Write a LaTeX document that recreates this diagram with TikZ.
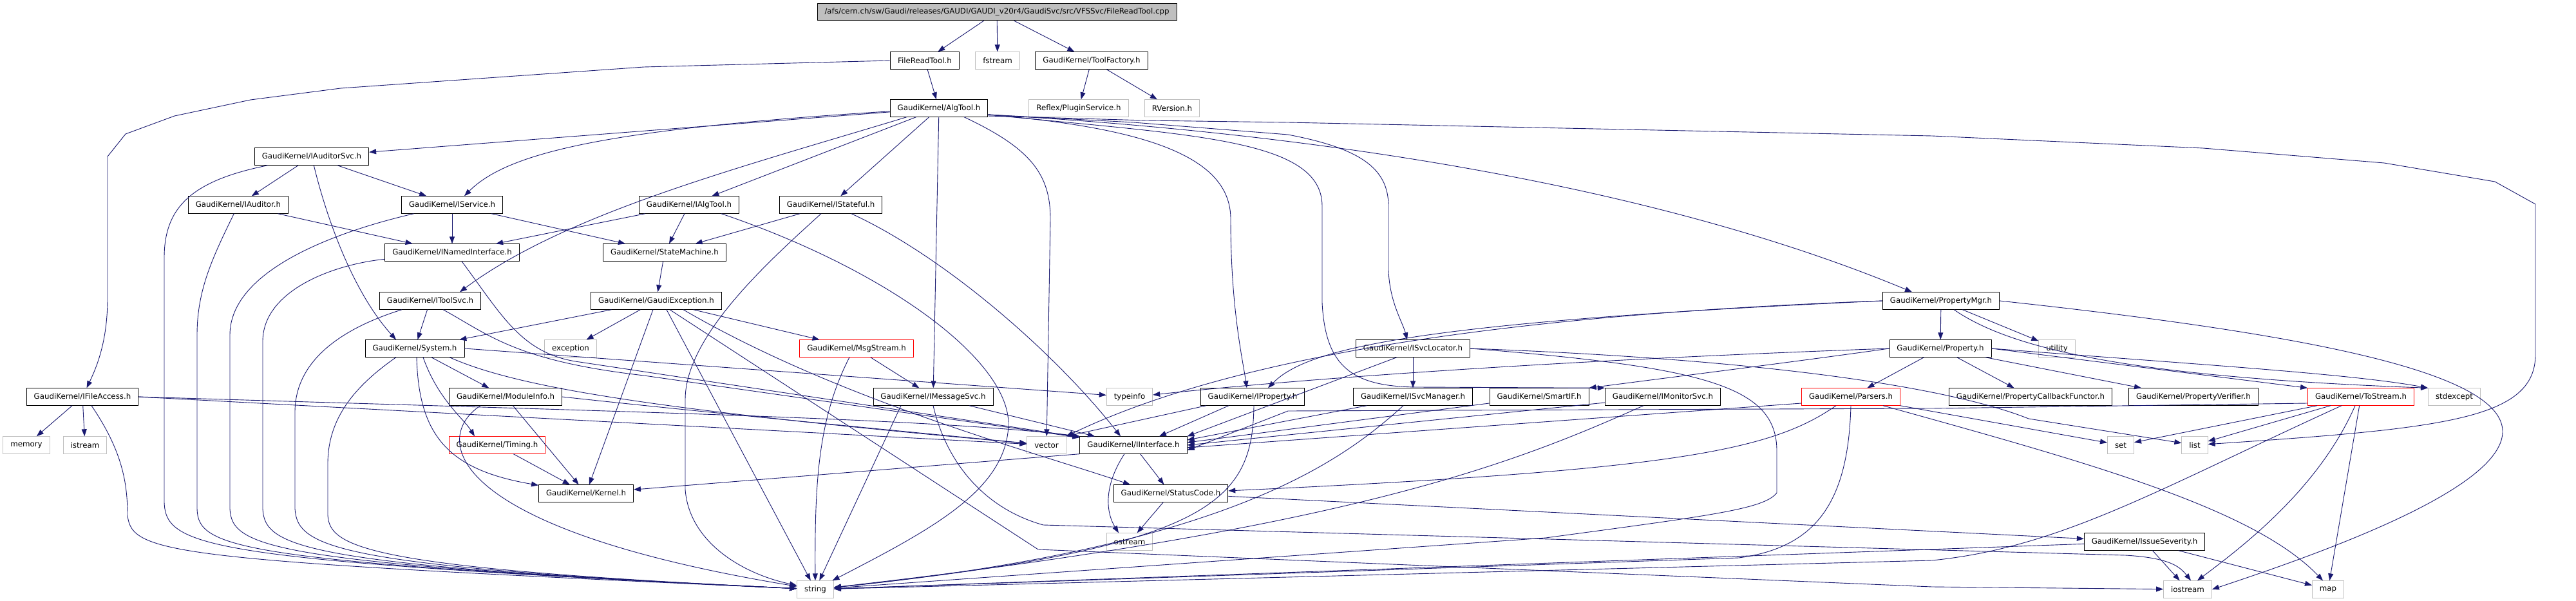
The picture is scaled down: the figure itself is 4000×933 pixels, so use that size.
\documentclass[tikz,border=0pt]{standalone}
\usepackage{fontspec}
\setmainfont{DejaVu Sans}
\usepackage{xcolor}
\usetikzlibrary{arrows.meta}

\definecolor{edgeblue}{HTML}{191970}
\definecolor{extgray}{HTML}{BFBFBF}
\newcommand{\gk}{GaudiKernel/}

\tikzset{
  hdr/.style={draw=black, line width=0.9pt, inner xsep=11.5pt, inner ysep=0pt, minimum height=26.5pt},
  exthdr/.style={hdr, draw=extgray},
  cuthdr/.style={hdr, draw=red},
  inc/.style={draw=edgeblue, line width=0.9pt, -{Triangle[length=11pt,width=8pt]}}
}

\begin{document}
\begin{tikzpicture}[x=1pt, y=-1pt, font=\fontsize{11.8}{14}\selectfont]
    \useasboundingbox (0,0) rectangle (4000,933);

    % the file itself
    \node[hdr, fill=extgray] (root) at (1548,18.5) {/afs/cern.ch/sw/Gaudi/releases/GAUDI/GAUDI\_v20r4/GaudiSvc/src/VFSSvc/FileReadTool.cpp};

    % documented headers
    \foreach \id/\xx/\yy/\txt in {
      frt/1436/94/{FileReadTool.h}, toolfactory/1695/94/{\gk ToolFactory.h},
      algtool/1458/168/{\gk AlgTool.h}, iauditorsvc/484/243/{\gk IAuditorSvc.h},
      iauditor/370/318/{\gk IAuditor.h}, iservice/702/318/{\gk IService.h},
      ialgtool/1070/318/{\gk IAlgTool.h}, istateful/1290/318/{\gk IStateful.h},
      inamedif/702/392/{\gk INamedInterface.h}, statemachine/1032/392/{\gk StateMachine.h},
      itoolsvc/668/467/{\gk IToolSvc.h}, gaudiexc/1019/467/{\gk GaudiException.h},
      propertymgr/3014/467/{\gk PropertyMgr.h}, system/644/541/{\gk System.h},
      isvclocator/2194/541/{\gk ISvcLocator.h}, property/3013/541/{\gk Property.h},
      ifileaccess/128/616/{\gk IFileAccess.h}, moduleinfo/785/616/{\gk ModuleInfo.h},
      imessagesvc/1449/616/{\gk IMessageSvc.h}, iproperty/1945/616/{\gk IProperty.h},
      isvcmanager/2194/616/{\gk ISvcManager.h}, smartif/2390/616/{\gk SmartIF.h},
      imonitorsvc/2582/616/{\gk IMonitorSvc.h}, pcbfunctor/3153/616/{\gk PropertyCallbackFunctor.h},
      pverifier/3406/616/{\gk PropertyVerifier.h}, iinterface/1760/691/{\gk IInterface.h},
      kernel/910/766/{\gk Kernel.h}, statuscode/1818/766/{\gk StatusCode.h},
      issueseverity/3330/841/{\gk IssueSeverity.h}} {
      \node[hdr] (\id) at (\xx,\yy) {\txt};
    }

    % truncated headers
    \foreach \id/\xx/\yy/\txt in {
      msgstream/1330/541/{\gk MsgStream.h}, timing/772/691/{\gk Timing.h},
      parsers/2874/616/{\gk Parsers.h}, tostream/3666/616/{\gk ToStream.h}} {
      \node[cuthdr] (\id) at (\xx,\yy) {\txt};
    }

    % system headers
    \foreach \id/\xx/\yy/\txt in {
      fstream/1549/94/fstream, pluginsvc/1675/168/{Reflex\slash PluginService.h},
      rversion/1820/168/{RVersion.h}, exception/886/541/exception, utility/3194/541/utility,
      typeinfo/1754/616/typeinfo, stdexcept/3811/616/stdexcept, memory/41/691/memory,
      istream/132/691/istream, vector/1625/691/vector, set/3293/691/set, list/3408/691/list,
      ostream/1754/841/ostream, string/1266/915/string, iostream/3397/915/iostream,
      map/3615/915/map} {
      \node[exthdr] (\id) at (\xx,\yy) {\txt};
    }

    % top levels
    \draw[inc] (root) -- (frt);
    \draw[inc] (root) -- (fstream);
    \draw[inc] (root) -- (toolfactory);
    \draw[inc] (toolfactory) -- (pluginsvc);
    \draw[inc] (toolfactory) -- (rversion);
    \draw[inc] (frt) -- (algtool);
    \draw[inc] (frt.west) -- (1000,104) -- (529,137) -- (389,155) -- (271,180) -- (195,208) -- (167,243) -- (167,463) .. controls (167,530) and (150,570) .. (ifileaccess);

    % AlgTool.h
    \coordinate (atr) at ([yshift=-10pt]algtool.east);
    \draw[inc] (algtool) -- (iauditorsvc);
    \draw[inc] (algtool) .. controls (950,200) and (790,235) .. ([xshift=19pt]iservice.north);
    \draw[inc] ([xshift=-50pt]algtool.south) .. controls (1150,260) and (880,330) .. ([xshift=46pt]itoolsvc.north);
    \draw[inc] (algtool) -- (ialgtool);
    \draw[inc] (algtool) -- (istateful);
    \draw[inc] (algtool) -- (imessagesvc);
    \draw[inc] ([xshift=39pt]algtool.south) .. controls (1600,230) and (1631,270) .. (1631,340) -- (vector);
    \draw[inc] (atr) .. controls (1800,200) and (1911,250) .. (1911,340) .. controls (1911,480) and (1930,560) .. ([xshift=-9pt]iproperty.north);
    \draw[inc] (atr) -- (1760,190) -- (2000,209) .. controls (2110,230) and (2156,260) .. (2156,320) -- (2156,420) .. controls (2158,470) and (2178,500) .. ([xshift=-9pt]isvclocator.north);
    \draw[inc] (atr) .. controls (1850,210) and (2053,215) .. (2053,320) -- (2053,470) .. controls (2058,570) and (2100,600) .. (2200,601) -- (imonitorsvc.north west);
    \draw[inc] (atr) .. controls (2100,210) and (2600,300) .. ([xshift=-45pt]propertymgr.north);
    \draw[inc] ([yshift=-12pt]algtool.east) -- (1780,187) -- (2000,190) -- (3000,211) -- (3421,230) -- (3702,253) -- (3874,282) -- (3937,317) -- (3937,550) .. controls (3937,650) and (3800,665) .. (list);

    % auditor / service level
    \draw[inc] (iauditorsvc) -- (iauditor);
    \draw[inc] (iauditorsvc) -- (iservice);
    \draw[inc] (iauditorsvc) .. controls (505,330) and (545,450) .. ([xshift=-29pt]system.north);
    \draw[inc] (iauditorsvc) .. controls (300,280) and (255,320) .. (255,400) -- (255,780) .. controls (258,850) and (320,870) .. (string);
    \draw[inc] (iauditor) -- (inamedif);
    \draw[inc] (iauditor) .. controls (330,400) and (306,450) .. (306,520) -- (306,790) .. controls (308,850) and (360,872) .. (string);
    \draw[inc] (iservice) -- (inamedif);
    \draw[inc] (iservice) -- (statemachine);
    \draw[inc] (iservice) .. controls (520,360) and (357,420) .. (357,520) -- (357,790) .. controls (360,850) and (420,875) .. (string);
    \draw[inc] (ialgtool) -- (inamedif);
    \draw[inc] (ialgtool) -- (statemachine);
    \draw[inc] ([xshift=50pt]ialgtool.south) .. controls (1380,420) and (1568,560) .. (1566,660) .. controls (1562,760) and (1450,820) .. (string);
    \draw[inc] (istateful) -- (statemachine);
    \draw[inc] (istateful) .. controls (1200,400) and (1064,520) .. (1064,620) -- (1064,760) .. controls (1070,840) and (1150,890) .. (string);
    \draw[inc] ([xshift=32pt]istateful.south) .. controls (1470,400) and (1640,550) .. ([xshift=-20pt]iinterface.north);
    \draw[inc] ([xshift=15pt]inamedif.south) .. controls (780,490) and (810,550) .. (900,562) -- (iinterface);
    \draw[inc] (inamedif) .. controls (520,410) and (408,450) .. (408,530) -- (408,790) .. controls (411,850) and (470,878) .. (string);
    \draw[inc] (statemachine) -- (gaudiexc);
    \draw[inc] (itoolsvc) -- (system);
    \draw[inc] (itoolsvc) .. controls (530,510) and (458,560) .. (458,640) -- (458,790) .. controls (462,850) and (520,880) .. (string);
    \draw[inc] ([xshift=20pt]itoolsvc.south) .. controls (760,520) and (800,560) .. (1000,583) -- (iinterface);

    % GaudiException.h
    \draw[inc] (gaudiexc) -- (system);
    \draw[inc] (gaudiexc) -- (exception);
    \draw[inc] (gaudiexc) -- (kernel);
    \draw[inc] (gaudiexc) -- (msgstream);
    \draw[inc] ([xshift=16pt]gaudiexc.south) -- (string);
    \draw[inc] ([xshift=42pt]gaudiexc.south) .. controls (1300,620) and (1600,700) .. ([xshift=-63pt]statuscode.north);
    \draw[inc] (gaudiexc) -- (1612,853) -- (3000,911) -- (iostream);

    % System.h and below
    \draw[inc] ([xshift=3pt]system.south) .. controls (650,680) and (700,730) .. (kernel);
    \draw[inc] (system) -- (moduleinfo);
    \draw[inc] ([xshift=13pt]system.south) .. controls (680,620) and (720,650) .. ([xshift=-35pt]timing.north);
    \draw[inc] ([xshift=-29pt]system.south) .. controls (550,600) and (509,650) .. (509,720) -- (509,800) .. controls (512,850) and (570,882) .. (string);
    \draw[inc] (system.east) -- (typeinfo);
    \draw[inc] ([xshift=54pt]system.south) .. controls (800,600) and (1000,635) .. (vector);
    \draw[inc] (moduleinfo) -- (kernel);
    \draw[inc] ([xshift=-39pt]moduleinfo.south) .. controls (670,680) and (690,820) .. (string);
    \draw[inc] (moduleinfo.east) .. controls (1000,630) and (1300,660) .. (vector);
    \draw[inc] (timing) -- (kernel);

    % IFileAccess.h
    \draw[inc] (ifileaccess) -- (memory);
    \draw[inc] (ifileaccess) -- (istream);
    \draw[inc] ([xshift=14pt]ifileaccess.south) .. controls (190,700) and (198,750) .. (198,800) .. controls (205,860) and (260,870) .. (string);
    \draw[inc] (ifileaccess.east) -- (vector);
    \draw[inc] (ifileaccess.east) .. controls (1000,640) and (1450,650) .. (iinterface.north west);

    % messages
    \draw[inc] (msgstream) -- (imessagesvc);
    \draw[inc] ([xshift=-11pt]msgstream.south) .. controls (1270,650) and (1265,750) .. (string);
    \draw[inc] (imessagesvc) -- ([xshift=-60pt]iinterface.north);
    \draw[inc] ([xshift=-50pt]imessagesvc.south) -- (string);
    \draw[inc] (imessagesvc.south) .. controls (1470,720) and (1530,790) .. (1620,815) -- (3300,862) .. controls (3370,866) and (3385,880) .. ([xshift=5pt]iostream.north);

    % IInterface.h, StatusCode.h
    \draw[inc] (iinterface.south west) -- (kernel);
    \draw[inc] (iinterface) -- (statuscode);
    \draw[inc] ([xshift=-14pt]iinterface.south) .. controls (1710,760) and (1720,800) .. ([xshift=-17pt]ostream.north);
    \draw[inc] (statuscode) -- (ostream);
    \draw[inc] (statuscode) -- (issueseverity);
    \draw[inc] (issueseverity) -- (string);
    \draw[inc] (issueseverity) -- (iostream);
    \draw[inc] (issueseverity) -- (map);

    % IProperty.h
    \draw[inc] ([xshift=-37pt]iproperty.south) -- ([xshift=40pt]iinterface.north);
    \draw[inc] ([xshift=-72pt]iproperty.south) -- (vector.north east);
    \draw[inc] ([xshift=2pt]iproperty.south) .. controls (1945,780) and (1880,850) .. (string);

    % services
    \draw[inc] (isvclocator) -- (isvcmanager);
    \draw[inc] ([xshift=-25pt]isvclocator.south) -- (iinterface.north east);
    \draw[inc] (isvclocator.east) .. controls (2650,570) and (2759,600) .. (2759,700) -- (2759,765) .. controls (2740,790) and (2660,800) .. (2400,835) -- (string);
    \draw[inc] (isvclocator.east) .. controls (2800,560) and (3050,610) .. (3150,650) -- (list);
    \draw[inc] (isvcmanager) -- ([yshift=8pt]iinterface.east);
    \draw[inc] ([xshift=-15pt]isvcmanager.south) .. controls (2080,720) and (1900,850) .. (string);
    \draw[inc] (smartif) -- ([yshift=4pt]iinterface.east);
    \draw[inc] (imonitorsvc) -- (iinterface.east);
    \draw[inc] ([xshift=-30pt]imonitorsvc.south) .. controls (2350,720) and (2100,820) .. (string);

    % PropertyMgr.h
    \draw[inc] (propertymgr) -- (property);
    \draw[inc] (propertymgr) -- (utility);
    \draw[inc] (propertymgr.west) .. controls (2200,500) and (2030,540) .. ([xshift=24pt]iproperty.north);
    \draw[inc] (propertymgr.west) .. controls (2300,490) and (1900,560) .. (vector.north east);
    \draw[inc] (propertymgr.east) .. controls (3600,520) and (3886,580) .. (3886,670) .. controls (3886,760) and (3600,860) .. (iostream.east);
    \draw[inc] ([xshift=20pt]propertymgr.south) .. controls (3120,540) and (3300,585) .. (stdexcept.north west);

    % Property.h
    \draw[inc] (property) -- (parsers);
    \draw[inc] (property) -- (pcbfunctor);
    \draw[inc] (property) -- ([xshift=-81pt]pverifier.north);
    \draw[inc] (property.east) -- (tostream.north west);
    \draw[inc] (property.east) .. controls (3400,565) and (3650,580) .. (stdexcept.north west);
    \draw[inc] (property.west) .. controls (2400,560) and (2000,590) .. ([yshift=3pt]typeinfo.east);
    \draw[inc] (property.west) .. controls (2800,560) and (2600,585) .. (smartif.north east);

    % Parsers.h
    \draw[inc] (parsers.south) .. controls (2870,780) and (2820,850) .. (2700,866) -- (string);
    \draw[inc] ([xshift=-23pt]parsers.south) .. controls (2750,700) and (2600,730) .. (statuscode);
    \draw[inc] ([yshift=-10pt]parsers.west) -- ([yshift=-4pt]iinterface.east);
    \draw[inc] ([xshift=50pt]parsers.south) .. controls (3250,720) and (3500,790) .. ([xshift=-8pt]map.north);
    \draw[inc] (parsers) -- (set);

    % ToStream.h
    \draw[inc] (tostream) -- (set);
    \draw[inc] (tostream) -- (list);
    \draw[inc] ([xshift=-9pt]tostream.south) .. controls (3600,760) and (3480,850) .. ([xshift=15pt]iostream.north);
    \draw[inc] (tostream) -- (map);
    \draw[inc] ([xshift=-30pt]tostream.south) .. controls (3350,760) and (3200,850) .. (3000,870) -- (string);
    \draw[inc] ([yshift=-10pt]tostream.west) -- (3000,634) -- (2000,638) -- ([yshift=-8pt]iinterface.east);
\end{tikzpicture}
\end{document}
